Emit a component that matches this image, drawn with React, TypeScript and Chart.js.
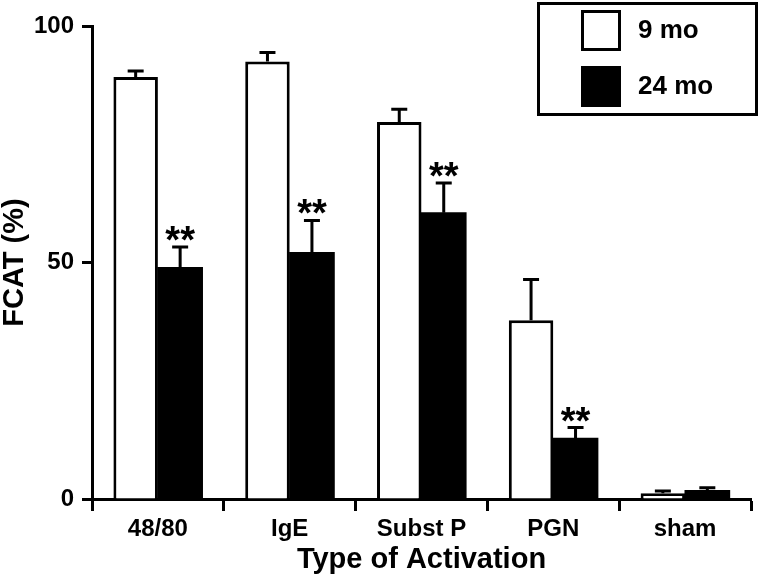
import React, { useEffect, useRef } from 'react';
import { Chart, registerables } from 'chart.js';

Chart.register(...registerables);

const categories = ['48/80', 'IgE', 'Subst P', 'PGN', 'sham'];
const seriesLabels = ['9 mo', '24 mo'];
const mean9 = [89.2, 92.5, 79.7, 37.8, 1.2];
const sem9 = [1.3, 1.9, 2.7, 8.6, 0.5];
const mean24 = [48.9, 52.1, 60.5, 12.8, 1.75];
const sem24 = [4.4, 6.8, 6.3, 2.3, 0.65];
const significance24 = ['**', '**', '**', '**', ''];
const yTicks = [0, 50, 100];
const yTitle = 'FCAT (%)';
const xTitle = 'Type of Activation';

const FONT = '"Liberation Sans", Arial, Helvetica, sans-serif';

export default function App() {
  const ref = useRef<HTMLCanvasElement>(null);

  useEffect(() => {
    const canvas = ref.current!;
    const sems = [sem9, sem24];
    const sigs = [null, significance24];

    const errorBars = {
      id: 'errorBars',
      afterDatasetsDraw(chart: any) {
        const ctx = chart.ctx;
        const yScale = chart.scales.y;
        ctx.save();
        ctx.strokeStyle = '#000';
        ctx.lineWidth = 3;
        ctx.lineCap = 'butt';
        chart.data.datasets.forEach((ds: any, di: number) => {
          const meta = chart.getDatasetMeta(di);
          meta.data.forEach((bar: any, i: number) => {
            const v = ds.data[i];
            const e = sems[di][i];
            const x = bar.x;
            const yTop = yScale.getPixelForValue(v + e);
            const yBar = yScale.getPixelForValue(v);
            ctx.beginPath();
            ctx.moveTo(x, yBar);
            ctx.lineTo(x, yTop);
            ctx.moveTo(x - 8, yTop);
            ctx.lineTo(x + 8, yTop);
            ctx.stroke();
            const sig = sigs[di] ? sigs[di]![i] : '';
            if (sig) {
              ctx.font = `bold 38px ${FONT}`;
              ctx.fillStyle = '#000';
              ctx.textAlign = 'center';
              ctx.textBaseline = 'alphabetic';
              const m = ctx.measureText(sig);
              const baseline = yTop - 6 - m.actualBoundingBoxDescent;
              ctx.fillText(sig, x, baseline);
            }
          });
        });
        ctx.restore();
      },
    };

    const legendBox = {
      id: 'legendBox',
      afterDraw(chart: any) {
        const ctx = chart.ctx;
        const W = chart.width;
        ctx.save();
        const bx = W - 223;
        const by = 2;
        const bw = 221;
        const bh = 114;
        ctx.fillStyle = '#fff';
        ctx.fillRect(bx, by, bw, bh);
        ctx.lineWidth = 3;
        ctx.strokeStyle = '#000';
        ctx.strokeRect(bx + 1.5, by + 1.5, bw - 3, bh - 3);
        chart.data.datasets.forEach((ds: any, i: number) => {
          const sx = bx + 44;
          const sy = by + 8 + i * 56;
          ctx.fillStyle = ds.backgroundColor;
          ctx.fillRect(sx, sy, 40, 41);
          ctx.strokeStyle = '#000';
          ctx.lineWidth = 3;
          ctx.strokeRect(sx + 1.5, sy + 1.5, 37, 38);
          ctx.fillStyle = '#000';
          ctx.font = `bold 26px ${FONT}`;
          ctx.textAlign = 'left';
          ctx.textBaseline = 'middle';
          ctx.fillText(ds.label, sx + 57, sy + 21);
        });
        ctx.restore();
      },
    };

    const tickFont = { family: FONT, size: 24, weight: 'bold' as const };

    const chart = new Chart(canvas, {
      type: 'bar',
      data: {
        labels: categories,
        datasets: [
          {
            label: seriesLabels[0],
            data: mean9,
            backgroundColor: '#ffffff',
            borderColor: '#000000',
            borderWidth: 3,
          },
          {
            label: seriesLabels[1],
            data: mean24,
            backgroundColor: '#000000',
            borderColor: '#000000',
            borderWidth: 0,
            inflateAmount: 0.6,
          },
        ],
      },
      options: {
        responsive: false,
        animation: false,
        devicePixelRatio: 1,
        layout: { padding: { top: 26, right: 9, bottom: 0, left: 0 } },
        datasets: { bar: { categoryPercentage: 0.675, barPercentage: 1 } },
        plugins: {
          legend: { display: false },
          tooltip: { enabled: false },
        },
        scales: {
          x: {
            grid: {
              display: true,
              drawOnChartArea: false,
              drawTicks: true,
              tickLength: 12,
              tickWidth: 3,
              tickColor: '#000',
              offset: true,
            },
            border: { display: true, color: '#000', width: 3 },
            ticks: { color: '#000', font: tickFont, padding: 4, maxRotation: 0 },
            title: {
              display: true,
              text: xTitle,
              color: '#000',
              font: { family: FONT, size: 29, weight: 'bold' },
              padding: { top: 0, bottom: 4 },
            },
            afterFit: (s: any) => {
              s.height = 82;
            },
          },
          y: {
            min: 0,
            max: 100,
            afterBuildTicks: (s: any) => {
              s.ticks = yTicks.map((v) => ({ value: v }));
            },
            grid: {
              display: true,
              drawOnChartArea: false,
              drawTicks: true,
              tickLength: 10,
              tickWidth: 3,
              tickColor: '#000',
            },
            border: { display: true, color: '#000', width: 3 },
            ticks: { color: '#000', font: tickFont, padding: 8 },
            title: {
              display: true,
              text: yTitle,
              color: '#000',
              font: { family: FONT, size: 29, weight: 'bold', lineHeight: 1 },
              padding: 0,
            },
            afterFit: (s: any) => {
              s.width = 92;
            },
          },
        },
      },
      plugins: [errorBars, legendBox],
    });
    return () => chart.destroy();
  }, []);

  return (
    <div style={{ position: 'absolute', left: 0, top: 0, width: 760, height: 581, background: '#fff' }}>
      <canvas ref={ref} width={760} height={581} style={{ display: 'block', width: 760, height: 581 }} />
    </div>
  );
}
